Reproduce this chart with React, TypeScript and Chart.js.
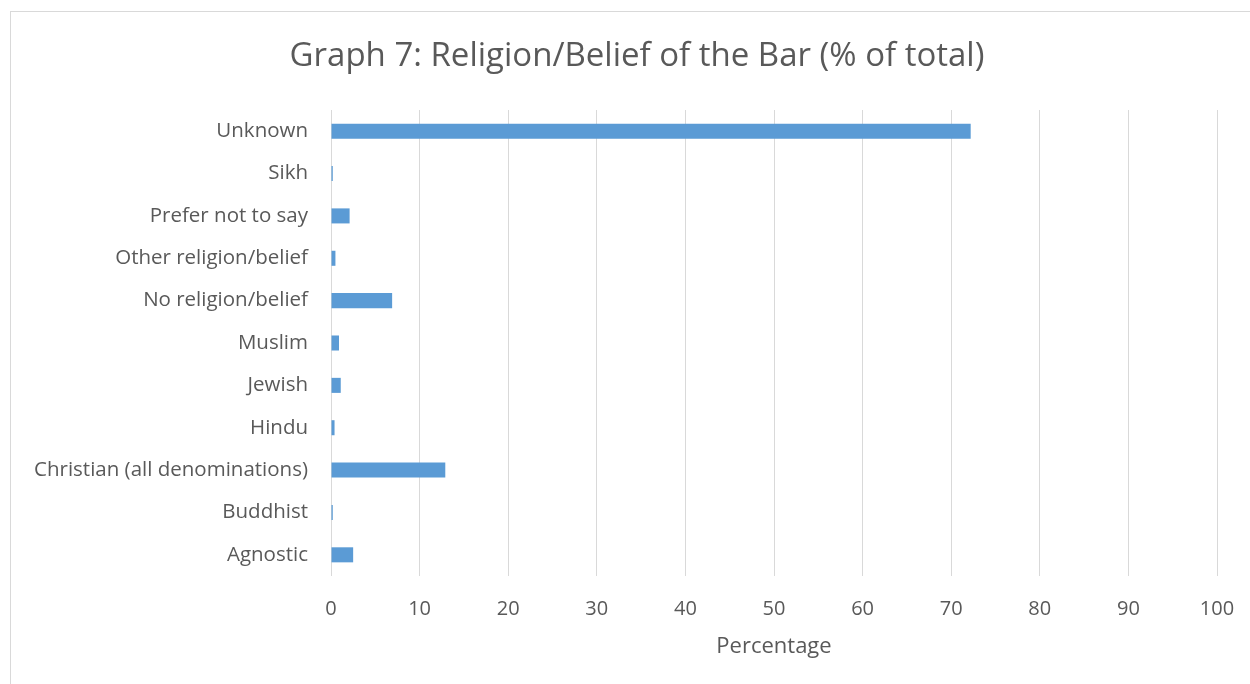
import React, { useEffect, useRef } from "react";
import { Chart, registerables } from "chart.js";

Chart.register(...registerables);

const categories = [
  "Unknown",
  "Sikh",
  "Prefer not to say",
  "Other religion/belief",
  "No religion/belief",
  "Muslim",
  "Jewish",
  "Hindu",
  "Christian (all denominations)",
  "Buddhist",
  "Agnostic",
];
const percentages = [72.2, 0.2, 2.1, 0.5, 6.9, 0.9, 1.1, 0.4, 12.9, 0.2, 2.5];
const xTickMin = 0;
const xTickMax = 100;
const xTickStep = 10;
const titleText = "Graph 7: Religion/Belief of the Bar (% of total)";
const xAxisTitle = "Percentage";

const FONT = "'Open Sans', 'DejaVu Sans', sans-serif";
const TEXT = "#595959";

const titlePlugin = {
  id: "customTitle",
  afterDraw(chart: any) {
    const ctx = chart.ctx;
    ctx.save();
    ctx.font = `33px ${FONT}`;
    ctx.fillStyle = TEXT;
    ctx.textAlign = "center";
    ctx.textBaseline = "middle";
    ctx.fillText(titleText, 637, 57);
    ctx.restore();
  },
};

export default function App() {
  const ref = useRef<HTMLCanvasElement | null>(null);
  useEffect(() => {
    if (!ref.current) return;
    const chart = new Chart(ref.current, {
      type: "bar",
      data: {
        labels: categories,
        datasets: [
          {
            data: percentages,
            backgroundColor: "#5B9BD5",
            borderWidth: 0,
            barPercentage: 0.355,
            categoryPercentage: 1,
          },
        ],
      },
      options: {
        indexAxis: "y",
        animation: false,
        responsive: false,
        maintainAspectRatio: false,
        layout: { padding: { top: 110, right: 33, bottom: 0, left: 0 } },
        plugins: {
          legend: { display: false },
          tooltip: { enabled: false },
          title: { display: false },
        },
        scales: {
          x: {
            type: "linear",
            min: xTickMin,
            max: xTickMax,
            ticks: {
              stepSize: xTickStep,
              color: TEXT,
              font: { family: FONT, size: 20 },
              padding: 21,
            },
            grid: { color: "#D9D9D9", lineWidth: 1, drawTicks: false },
            border: { display: false },
            title: {
              display: true,
              text: xAxisTitle,
              color: TEXT,
              font: { family: FONT, size: 22 },
              padding: { top: 4, bottom: 24 },
            },
            afterFit: (scale: any) => {
              scale.height = 108;
              scale.paddingRight = 0;
              scale.paddingLeft = 0;
            },
          },
          y: {
            type: "category",
            ticks: {
              color: TEXT,
              font: { family: FONT, size: 20.5 },
              padding: 23,
            },
            grid: { display: false, drawTicks: false },
            border: { display: false },
            afterFit: (scale: any) => {
              scale.width = 331;
            },
          },
        },
      },
      plugins: [titlePlugin],
    });
    return () => chart.destroy();
  }, []);

  return (
    <div style={{ position: "fixed", left: 0, top: 0, width: 1250, height: 684, background: "#fff", overflow: "hidden" }}>
      <div
        style={{
          position: "absolute",
          left: 10,
          top: 11,
          width: 1260,
          height: 700,
          border: "1px solid #D9D9D9",
          boxSizing: "border-box",
        }}
      />
      <canvas ref={ref} width={1250} height={684} style={{ position: "absolute", left: 0, top: 0, display: "block" }} />
    </div>
  );
}
